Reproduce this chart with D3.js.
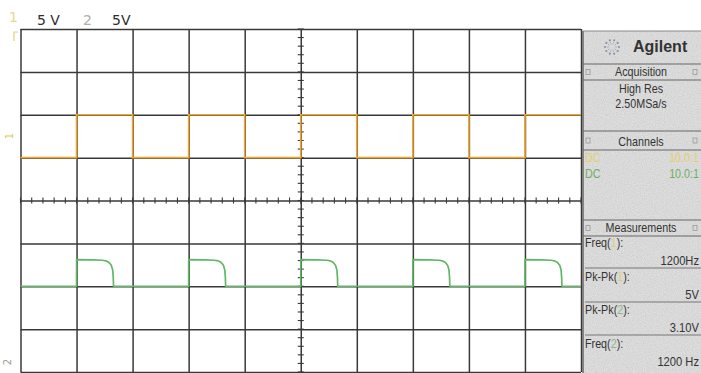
<!DOCTYPE html>
<html>
<head>
<meta charset="utf-8">
<script src="https://cdn.jsdelivr.net/npm/d3@7"></script>
<style>
  html, body { margin: 0; padding: 0; background: #ffffff; }
  svg { display: block; }
  .narrow { font-family: "Liberation Sans Narrow", "Arial Narrow", "Liberation Sans", sans-serif; }
</style>
</head>
<body>
<svg id="scope" width="701" height="373"></svg>
<script>
// ---- data (time in divisions, voltage in volts on a 5 V/div screen) ----
const scaleLabels = ["5 V", "5V"];
const channelNumbers = ["1", "2"];

// channel 1: square wave, step levels at each division boundary
const ch1Times  = [0, 1, 2, 3, 4, 5, 6, 7, 8, 9, 10];
const ch1Volts  = [5, 10, 5, 10, 5, 10, 5, 10, 5, 10, 10];

// channel 2: short pulses that start at each rising edge of channel 1
const ch2Starts = [1, 3, 5, 7, 9];
const ch2Base   = -10.0;
const ch2ShapeDt = [0, 0.001, 0.30, 0.46, 0.53, 0.58, 0.62, 0.645, 0.655, 0.66];
const ch2ShapeV  = [0, 3.10, 3.08, 3.03, 2.95, 2.78, 2.45, 1.90, 1.00, 0];

// side panel contents
const acquisitionLines = ["High Res", "2.50MSa/s"];
const channelRows = [
  { coupling: "DC", probe: "10.0:1" },
  { coupling: "DC", probe: "10.0:1" }
];
const measureNames  = ["Freq(", "Pk-Pk(", "Pk-Pk(", "Freq("];
const measureChans  = ["1", "1", "2", "2"];
const measureValues = ["1200Hz", "5V", "3.10V", "1200 Hz"];

// ---- layout ----
const svg = d3.select("#scope");
const W = 701, H = 373;
const plot = { left: 20.5, right: 581, top: 29, bottom: 372 };
const ch1Color = "#efa534";
const ch2Color = "#62b766";
const gridColor = "#393939";

const x = d3.scaleLinear().domain([0, 10]).range([plot.left, plot.right]);
const y = d3.scaleLinear().domain([-20, 20]).range([plot.bottom, plot.top]);

const defs = svg.append("defs");
const grain = defs.append("filter").attr("id", "grain")
  .attr("x", 0).attr("y", 0).attr("width", 1).attr("height", 1);
grain.append("feTurbulence").attr("type", "fractalNoise")
  .attr("baseFrequency", 0.9).attr("numOctaves", 2).attr("seed", 3).attr("result", "n");
grain.append("feColorMatrix").attr("in", "n").attr("type", "matrix")
  .attr("values", "0 0 0 0 0.45  0 0 0 0 0.45  0 0 0 0 0.45  0 0 0 0.7 -0.15")
  .attr("result", "dots");
grain.append("feComposite").attr("in", "dots").attr("in2", "SourceGraphic").attr("operator", "in")
  .attr("result", "dotsIn");
grain.append("feMerge").selectAll("feMergeNode").data(["SourceGraphic", "dotsIn"]).join("feMergeNode")
  .attr("in", d => d);

// ---- graticule ----
const gridX = svg.append("g")
  .attr("transform", `translate(0,${plot.bottom})`)
  .call(d3.axisBottom(x).tickValues(d3.range(0, 11)).tickSize(-(plot.bottom - plot.top)).tickFormat(""));
const gridY = svg.append("g")
  .attr("transform", `translate(${plot.left},0)`)
  .call(d3.axisLeft(y).tickValues(d3.range(-20, 21, 5)).tickSize(-(plot.right - plot.left)).tickFormat(""));
[gridX, gridY].forEach(g => {
  g.select(".domain").remove();
  g.selectAll(".tick line").attr("stroke", gridColor).attr("stroke-width", 1.5);
});

// minor ticks along the centre axes (every 1/5 division)
const minorX = d3.range(0, 10.01, 0.2);
const minorY = d3.range(-20, 20.01, 1);
svg.append("g").selectAll("line").data(minorX).join("line")
  .attr("x1", d => x(d)).attr("x2", d => x(d))
  .attr("y1", y(0) - 3).attr("y2", y(0) + 3)
  .attr("stroke", gridColor).attr("stroke-width", 1.1);
svg.append("g").selectAll("line").data(minorY).join("line")
  .attr("x1", x(5) - 3).attr("x2", x(5) + 3)
  .attr("y1", d => y(d)).attr("y2", d => y(d))
  .attr("stroke", gridColor).attr("stroke-width", 1.1);

// ---- traces ----
const ch1Line = d3.line().x(d => x(d[0])).y(d => y(d[1])).curve(d3.curveStepAfter);
svg.append("path")
  .datum(ch1Times.map((t, i) => [t, ch1Volts[i]]))
  .attr("d", ch1Line)
  .attr("fill", "none").attr("stroke", ch1Color).attr("stroke-width", 1.7);

const ch2Points = [[0, ch2Base]];
ch2Starts.forEach(s => {
  ch2ShapeDt.forEach((dt, i) => ch2Points.push([s + dt, ch2Base + ch2ShapeV[i]]));
});
ch2Points.push([10, ch2Base]);
svg.append("path")
  .datum(ch2Points)
  .attr("d", d3.line().x(d => x(d[0])).y(d => y(d[1])))
  .attr("fill", "none").attr("stroke", ch2Color).attr("stroke-width", 1.7)
  .attr("stroke-linejoin", "round");

// ---- channel scale labels on top ----
const topG = svg.append("g").attr("font-family", "DejaVu Sans, sans-serif").attr("font-size", 14);
topG.append("text").attr("x", 9).attr("y", 22).attr("fill", "#e8d98a").text(channelNumbers[0]);
topG.append("text").attr("x", 37).attr("y", 25).attr("fill", "#2e2e2e").text(scaleLabels[0]);
topG.append("text").attr("x", 83).attr("y", 25).attr("fill", "#a9b3a6").text(channelNumbers[1]);
topG.append("text").attr("x", 112).attr("y", 25).attr("fill", "#2e2e2e").text(scaleLabels[1]);

// ground / trigger markers at the left edge
svg.append("text").attr("transform", `translate(13,136) rotate(-90)`)
  .attr("font-family", "DejaVu Sans, sans-serif").attr("font-size", 10)
  .attr("fill", "#d9c866").attr("text-anchor", "middle").text(channelNumbers[0]);
svg.append("text").attr("transform", `translate(11,362) rotate(-90)`)
  .attr("font-family", "DejaVu Sans, sans-serif").attr("font-size", 10)
  .attr("fill", "#9a9a8a").attr("text-anchor", "middle").text(channelNumbers[1]);
svg.append("path").attr("d", "M14,41 L14,32 L18,32").attr("fill", "none")
  .attr("stroke", "#e0d27a").attr("stroke-width", 1.2);

// ---- side panel ----
const px0 = 583, px1 = 701;
const panel = svg.append("g").attr("class", "narrow");
panel.append("rect").attr("x", px0).attr("y", 31).attr("width", px1 - px0).attr("height", H - 31)
  .attr("fill", "#e1e1e1").attr("filter", "url(#grain)");
panel.append("line").attr("x1", px0).attr("x2", px0).attr("y1", 31).attr("y2", H)
  .attr("stroke", "#555").attr("stroke-width", 1.3);
panel.append("line").attr("x1", px0).attr("x2", px1).attr("y1", 31).attr("y2", 31)
  .attr("stroke", "#888").attr("stroke-width", 1);

// condensed panel text: horizontal squeeze around its anchor point
const SQ = 0.86;
function ptext(xp, yp, anchor, size, fill, str) {
  return panel.append("text")
    .attr("transform", `translate(${xp},${yp}) scale(${SQ},1)`)
    .attr("text-anchor", anchor).attr("font-size", size).attr("fill", fill).text(str);
}

// logo: ring of dots
const logo = panel.append("g").attr("transform", "translate(612,47)");
logo.selectAll("circle").data(d3.range(10)).join("circle")
  .attr("cx", d => 7 * Math.cos(d * Math.PI / 5))
  .attr("cy", d => 7 * Math.sin(d * Math.PI / 5))
  .attr("r", 1.1).attr("fill", "#8a96a8");
logo.selectAll("line").data(d3.range(10)).join("line")
  .attr("x1", d => 3 * Math.cos(d * Math.PI / 5)).attr("y1", d => 3 * Math.sin(d * Math.PI / 5))
  .attr("x2", d => 5 * Math.cos(d * Math.PI / 5)).attr("y2", d => 5 * Math.sin(d * Math.PI / 5))
  .attr("stroke", "#a0aab8").attr("stroke-width", 0.8);
panel.append("text").attr("x", 633).attr("y", 52)
  .attr("font-family", "Liberation Sans, Arial, sans-serif").attr("font-weight", "bold")
  .attr("font-size", 16).attr("fill", "#333").text("Agilent");

// section headers
function header(y0, y1, label) {
  panel.append("line").attr("x1", px0).attr("x2", px1).attr("y1", y0).attr("y2", y0)
    .attr("stroke", "#666").attr("stroke-width", 1.2);
  panel.append("line").attr("x1", px0).attr("x2", px1).attr("y1", y1).attr("y2", y1)
    .attr("stroke", "#666").attr("stroke-width", 1.2);
  ptext(641, y1 - 4, "middle", 12.5, "#333", label);
  [px0 + 5, px1 - 6].forEach(cx => {
    panel.append("rect").attr("x", cx - 2).attr("y", (y0 + y1) / 2 - 2.5).attr("width", 4).attr("height", 5)
      .attr("fill", "none").attr("stroke", "#999").attr("stroke-width", 0.8);
  });
}
header(64, 80, "Acquisition");
header(131, 150, "Channels");
header(220, 236, "Measurements");

acquisitionLines.forEach((t, i) => {
  ptext(641, 93 + i * 15, "middle", 12.5, "#333", t);
});

channelRows.forEach((row, i) => {
  const yy = 162 + i * 16;
  const c = i === 0 ? "#e6cf68" : "#6fae62";
  ptext(585, yy, "start", 12.5, c, row.coupling);
  ptext(699, yy, "end", 12.5, c, row.probe);
});

// measurement rows
const rowTop = [235, 269, 302, 336];
measureNames.forEach((name, i) => {
  const t = ptext(585, rowTop[i] + 12, "start", 12.5, "#333", null);
  t.append("tspan").text(name);
  t.append("tspan").attr("fill", i < 2 ? "#e3cf70" : "#8fb58a").text(measureChans[i]);
  t.append("tspan").text("):");
  ptext(699, rowTop[i] + 30, "end", 13, "#333", measureValues[i]);
  if (i < 3) {
    panel.append("line").attr("x1", px0 + 2).attr("x2", px1).attr("y1", rowTop[i] + 33).attr("y2", rowTop[i] + 33)
      .attr("stroke", "#777").attr("stroke-width", 1);
  }
});
</script>
</body>
</html>
